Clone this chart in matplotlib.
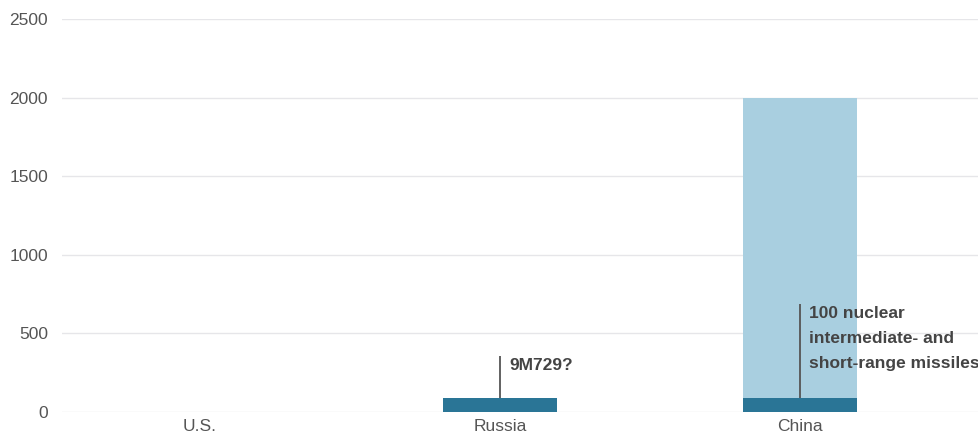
import matplotlib
matplotlib.use("Agg")
import matplotlib.pyplot as plt

categories = ["U.S.", "Russia", "China"]
dark_values = [0, 90, 90]          # missiles of the banned range (dark)
total_values = [0, 90, 2000]       # total incl. light part
yticks = [0, 500, 1000, 1500, 2000, 2500]
annot_labels = ["", "9M729?", "100 nuclear\nintermediate- and\nshort-range missiles"]
annot_heights = [None, 355, 690]

plt.rcParams['font.family'] = ['Liberation Sans', 'DejaVu Sans']

fig = plt.figure(figsize=(9.79, 4.41), dpi=100)
ax = fig.add_axes([62/979, 29/441, 1 - 62/979, 393/441])

x = list(range(len(categories)))
light = [t - d for t, d in zip(total_values, dark_values)]
ax.bar(x, dark_values, width=0.38, color="#2a7596", zorder=3)
ax.bar(x, light, bottom=dark_values, width=0.38, color="#a9cfe0", zorder=3)

for xi, lab, h, d in zip(x, annot_labels, annot_heights, dark_values):
    if not lab:
        continue
    ax.plot([xi, xi], [d, h], color="#555555", lw=1.3, zorder=4, solid_capstyle="butt")
    ax.annotate(lab, xy=(xi, h), xytext=(6.5, -1.5), textcoords="offset points",
                ha="left", va="top", fontsize=12.5, fontweight="bold",
                color="#444444", linespacing=1.85, zorder=5, annotation_clip=False)

ax.set_xlim(-0.46, 2.597)
ax.set_ylim(0, 2500)
ax.set_yticks(yticks)
ax.set_yticklabels([str(v) for v in yticks])
ax.set_xticks(x)
ax.set_xticklabels(categories)
ax.tick_params(axis="both", length=0, labelsize=12.5, labelcolor="#555555")
ax.tick_params(axis="y", pad=10)
ax.tick_params(axis="x", pad=5)
ax.grid(axis="y", color="#e6e6e9", lw=1, zorder=0)
for s in ax.spines.values():
    s.set_visible(False)

fig.savefig("out.png", dpi=100)
